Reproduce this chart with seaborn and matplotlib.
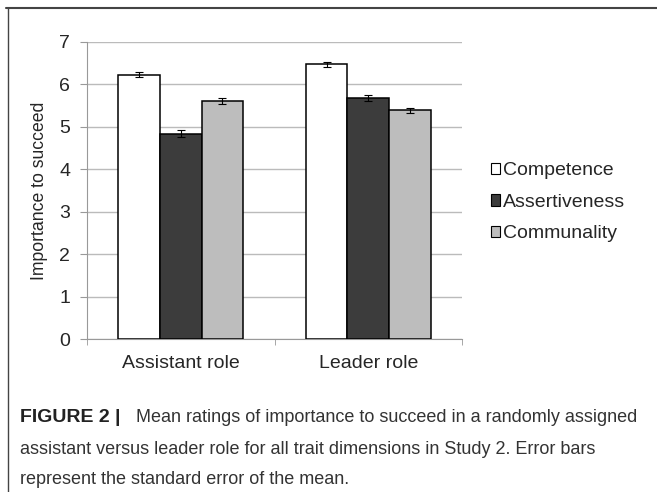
import numpy as np
import pandas as pd
import matplotlib
matplotlib.use("Agg")
import matplotlib.pyplot as plt
import seaborn as sns
from matplotlib.lines import Line2D

roles = ["Assistant role", "Leader role"]
traits = ["Competence", "Assertiveness", "Communality"]
competence = [6.23, 6.47]
assertiveness = [4.84, 5.69]
communality = [5.61, 5.39]
competence_se = [0.06, 0.06]
assertiveness_se = [0.08, 0.07]
communality_se = [0.06, 0.06]

colors = ["#ffffff", "#3c3c3c", "#bdbdbd"]

df = pd.DataFrame({
    "role": roles * 3,
    "trait": np.repeat(traits, 2),
    "value": competence + assertiveness + communality,
    "se": competence_se + assertiveness_se + communality_se,
})

sns.set_style("white")
plt.rcParams['font.family'] = ['Liberation Sans', 'DejaVu Sans']

fig = plt.figure(figsize=(6.57, 4.92), dpi=100)
ax = fig.add_axes([87/657, 1-339/492, (462-87)/657, (339-42)/492])

sns.barplot(data=df, x="role", y="value", hue="trait", hue_order=traits,
            palette=colors, edgecolor="black", linewidth=1.1,
            width=2/3, errorbar=None, ax=ax, zorder=3)

# error bars from bar positions
for cont, t in zip(ax.containers, traits):
    sub = df[df["trait"] == t]
    xs = [p.get_x() + p.get_width()/2 for p in cont]
    ax.errorbar(xs, sub["value"].values, yerr=sub["se"].values, fmt="none",
                ecolor="black", elinewidth=0.8, capsize=3, capthick=0.8, zorder=4)

ax.set_xlim(-0.5, 1.5)
ax.set_ylim(0, 7)
ax.set_yticks(range(0, 8))
ax.yaxis.grid(True, color="#bbbbbb", linewidth=1)
ax.set_axisbelow(True)
for s in ["top", "right"]:
    ax.spines[s].set_visible(False)
ax.spines["left"].set_color("#999999")
ax.spines["bottom"].set_color("#999999")
ax.tick_params(axis="y", left=True, length=5, color="#999999", labelsize=14, pad=7)
ax.tick_params(axis="x", bottom=False, labelsize=14, pad=8)
ax.set_xticks([-0.5, 0.5, 1.5], minor=True)
ax.tick_params(axis="x", which="minor", bottom=True, length=4, color="#999999")
ax.set_xlabel("")
ax.set_ylabel("Importance to succeed", fontsize=12.7, labelpad=8)

handles = [plt.Rectangle((0, 0), 1, 1, facecolor=c, edgecolor="black", linewidth=0.8)
           for c in colors]
ax.legend(handles, traits, loc="center left", bbox_to_anchor=(1.03, 0.46),
          frameon=False, fontsize=14, handlelength=0.5, handleheight=0.5,
          handletextpad=0.15, labelspacing=0.75)

# frame lines
fig.add_artist(Line2D([6/657, 1], [1-8/492, 1-8/492], color="#444444", linewidth=1.5))
fig.add_artist(Line2D([8/657, 8/657], [0, 1-8/492], color="#444444", linewidth=1.0))

# caption
fig.text(20/657, 1-418/492, "FIGURE 2 |", fontsize=14, fontweight="bold",
         va="center", color="#222222")
fig.text(136/657, 1-418/492, "Mean ratings of importance to succeed in a randomly assigned",
         fontsize=13, va="center", color="#333333")
fig.text(20/657, 1-449/492, "assistant versus leader role for all trait dimensions in Study 2. Error bars",
         fontsize=13, va="center", color="#333333")
fig.text(20/657, 1-479/492, "represent the standard error of the mean.",
         fontsize=13, va="center", color="#333333")

fig.savefig("out.png", dpi=100)
